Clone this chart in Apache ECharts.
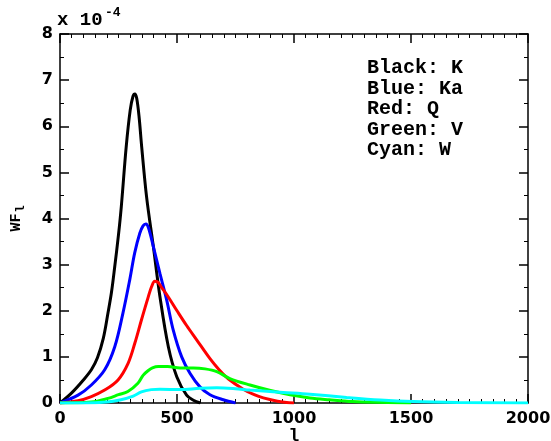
<!DOCTYPE html>
<html>
<head>
<meta charset="utf-8">
<script src="https://cdn.jsdelivr.net/npm/echarts@6/dist/echarts.min.js"></script>
<style>
  html, body { margin: 0; padding: 0; background: #ffffff; }
  #chart { width: 551px; height: 441px; }
</style>
</head>
<body>
<div id="chart"></div>
<script>
// Window functions per band, in units of 1e-4, sampled at multipole l
const kEll  = [0, 50, 100, 134, 160, 185, 205, 220, 234, 250, 262, 283, 300, 312, 320, 328, 338, 349, 370, 399, 427, 463, 499, 541, 570, 600];
const kWF   = [0, 0.22, 0.5, 0.72, 0.98, 1.4, 1.95, 2.4, 2.96, 3.65, 4.26, 5.56, 6.35, 6.65, 6.70, 6.60, 6.20, 5.56, 4.47, 3.39, 2.31, 1.22, 0.57, 0.17, 0.06, 0];

const kaEll = [0, 77, 134, 191, 234, 269, 298, 319, 341, 355, 367, 378, 399, 427, 456, 484, 520, 556, 598, 641, 698, 750];
const kaWF  = [0, 0.17, 0.39, 0.72, 1.22, 1.95, 2.67, 3.25, 3.68, 3.84, 3.88, 3.80, 3.39, 2.81, 2.23, 1.58, 1.0, 0.64, 0.35, 0.18, 0.07, 0];

const qEll  = [0, 77, 134, 191, 248, 291, 320, 348, 376, 392, 405, 418, 432, 460, 500, 541, 584, 641, 680, 720, 783, 830, 869, 930, 1000];
const qWF   = [0, 0.05, 0.14, 0.28, 0.5, 0.86, 1.30, 1.80, 2.28, 2.53, 2.64, 2.62, 2.52, 2.32, 2.00, 1.68, 1.37, 0.96, 0.72, 0.52, 0.30, 0.18, 0.11, 0.04, 0];

const vEll  = [0, 134, 205, 250, 290, 333, 355, 376, 395, 420, 460, 513, 570, 620, 670, 726, 812, 900, 983, 1068, 1150, 1250, 1400, 1500];
const vWF   = [0, 0.02, 0.10, 0.18, 0.25, 0.43, 0.60, 0.70, 0.76, 0.79, 0.79, 0.76, 0.76, 0.74, 0.68, 0.53, 0.39, 0.27, 0.18, 0.11, 0.07, 0.03, 0.01, 0];

const wEll  = [0, 100, 200, 256, 313, 348, 390, 427, 513, 598, 670, 750, 812, 954, 1068, 1225, 1368, 1509, 1700, 2000];
const wWF   = [0, 0.0, 0.02, 0.065, 0.15, 0.24, 0.29, 0.30, 0.29, 0.32, 0.33, 0.31, 0.28, 0.23, 0.19, 0.12, 0.065, 0.03, 0.01, 0];

const legendLines = ['Black: K', 'Blue: Ka', 'Red: Q', 'Green: V', 'Cyan: W'];

const pairs = (xs, ys) => xs.map((x, i) => [x, ys[i]]);

const tickFont = { fontFamily: 'DejaVu Sans', fontWeight: 'bold', fontSize: 16, color: '#000' };
const monoFont = 'Liberation Mono';

function axisCommon(extra) {
  return Object.assign({
    type: 'value',
    axisLine: { show: true, onZero: false, lineStyle: { color: '#000', width: 1.5 } },
    axisTick: { show: true, inside: true, length: 9, lineStyle: { color: '#000', width: 1.5 } },
    splitLine: { show: false },
    minorSplitLine: { show: false }
  }, extra);
}

const minorX = { show: true, splitNumber: 10, length: 4, lineStyle: { color: '#000', width: 1 } };
const minorY = { show: true, splitNumber: 2, length: 4, lineStyle: { color: '#000', width: 1 } };

const chart = echarts.init(document.getElementById('chart'), null, { renderer: 'canvas' });

const lineSeries = (name, color, xs, ys) => ({
  name: name,
  type: 'line',
  xAxisIndex: 0,
  yAxisIndex: 0,
  data: pairs(xs, ys),
  smooth: 0.35,
  showSymbol: false,
  symbol: 'none',
  lineStyle: { color: color, width: 3 },
  z: 3
});

chart.setOption({
  animation: false,
  backgroundColor: '#fff',
  grid: { left: 60, right: 23, top: 34, bottom: 38, containLabel: false, outerBoundsMode: 'none' },
  xAxis: [
    axisCommon({
      position: 'bottom', min: 0, max: 2000, interval: 500,
      minorTick: minorX,
      axisLabel: Object.assign({ margin: 8, formatter: v => String(v) }, tickFont),
      name: 'l', nameLocation: 'middle', nameGap: 24, nameMoveOverlap: false,
      nameTextStyle: { fontFamily: monoFont, fontWeight: 'bold', fontSize: 18, color: '#000' }
    }),
    axisCommon({
      position: 'top', min: 0, max: 2000, interval: 500,
      minorTick: minorX,
      axisLabel: { show: false }
    })
  ],
  yAxis: [
    axisCommon({
      position: 'left', min: 0, max: 8, interval: 1,
      minorTick: minorY,
      axisLabel: Object.assign({ margin: 7, formatter: v => String(v) }, tickFont),
      name: '{a|WF}{b|l}', nameLocation: 'middle', nameGap: 33, nameRotate: 90, nameMoveOverlap: false,
      nameTextStyle: {
        rich: {
          a: { fontFamily: monoFont, fontWeight: 'bold', fontSize: 15, color: '#000' },
          b: { fontFamily: monoFont, fontWeight: 'bold', fontSize: 12, color: '#000', padding: [10, 0, 0, 1] }
        }
      }
    }),
    axisCommon({
      position: 'right', min: 0, max: 8, interval: 1,
      minorTick: minorY,
      axisLabel: { show: false }
    })
  ],
  graphic: [
    {
      type: 'text', left: 57, top: 11,
      style: { text: 'x 10', fontFamily: monoFont, fontWeight: 'bold', fontSize: 19, fill: '#000' }
    },
    {
      type: 'text', left: 105, top: 6,
      style: { text: '-4', fontFamily: monoFont, fontWeight: 'bold', fontSize: 13, fill: '#000' }
    },
    {
      type: 'text', left: 367, top: 58,
      style: {
        text: legendLines.join('\n'),
        fontFamily: monoFont, fontWeight: 'bold', fontSize: 20, lineHeight: 20.5, fill: '#000'
      }
    }
  ],
  series: [
    lineSeries('K', '#000000', kEll, kWF),
    lineSeries('Ka', '#0000ff', kaEll, kaWF),
    lineSeries('Q', '#ff0000', qEll, qWF),
    lineSeries('V', '#00ff00', vEll, vWF),
    lineSeries('W', '#00ffff', wEll, wWF)
  ]
});
</script>
</body>
</html>
